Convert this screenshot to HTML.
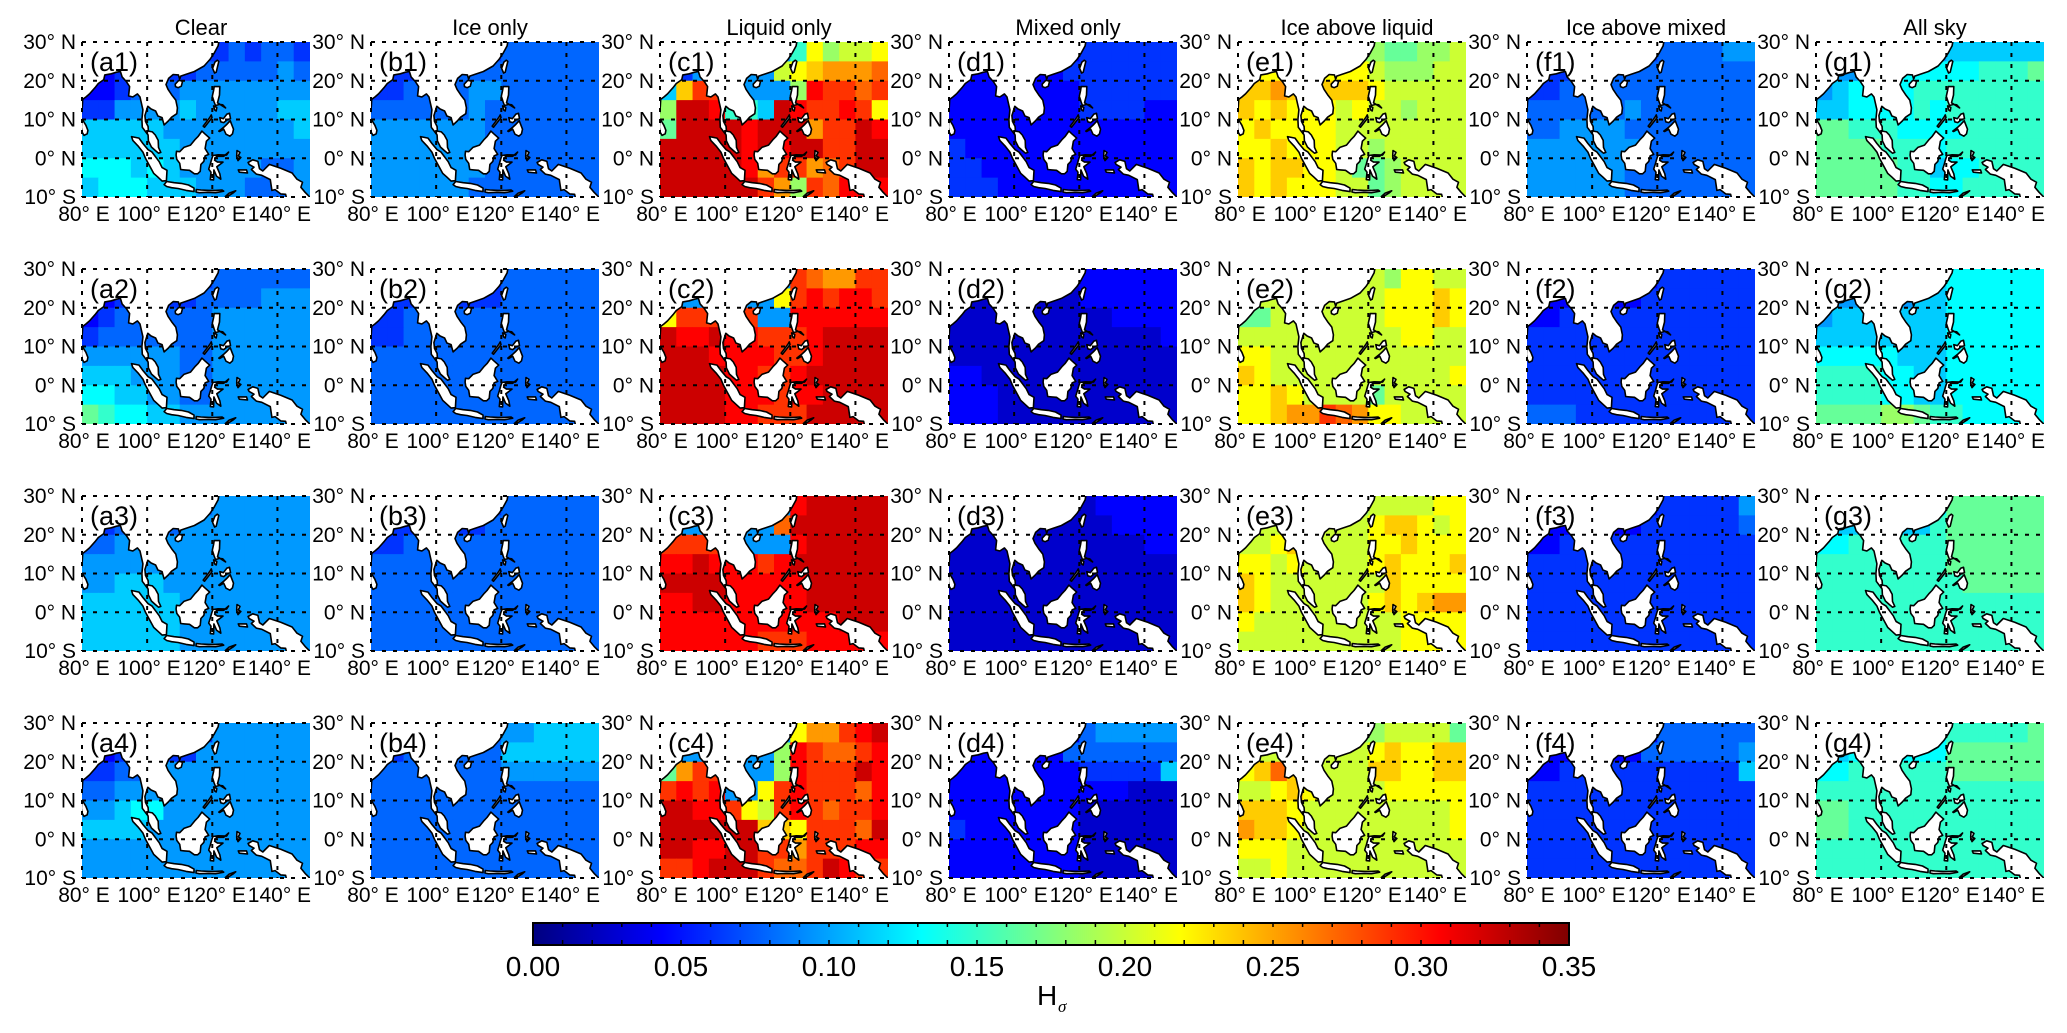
<!DOCTYPE html>
<html><head><meta charset="utf-8">
<style>
html,body{margin:0;padding:0;background:#fff;}
svg{display:block;font-family:"Liberation Sans",Arial,sans-serif;}
</style></head>
<body>
<svg id="fig" width="2067" height="1033" viewBox="0 0 2067 1033" xmlns="http://www.w3.org/2000/svg">
<defs>
<linearGradient id="jet" x1="0" x2="1" y1="0" y2="0">
<stop offset="0" stop-color="#000080"/>
<stop offset="0.125" stop-color="#0000ff"/>
<stop offset="0.375" stop-color="#00ffff"/>
<stop offset="0.625" stop-color="#ffff00"/>
<stop offset="0.875" stop-color="#ff0000"/>
<stop offset="1" stop-color="#800000"/>
</linearGradient>
</defs>
</svg>
<script>
// ---- chart data ----
const columnTitles = ["Clear","Ice only","Liquid only","Mixed only","Ice above liquid","Ice above mixed","All sky"];
const columnLetters = ["a","b","c","d","e","f","g"];
const latTicks = [30,20,10,0,-10];
const latTickLabels = ["30° N","20° N","10° N","0° N","10° S"];
const lonTicks = [80,100,120,140];
const lonTickLabels = ["80° E","100° E","120° E","140° E"];
const cbTicks = [0,0.05,0.10,0.15,0.20,0.25,0.30,0.35];
const cbTickLabels = ["0.00","0.05","0.10","0.15","0.20","0.25","0.30","0.35"];
const valueMin = 0, valueMax = 0.35;
// grid cells: 5° lon x 5° lat, rows from 30°N down to 10°S, columns from 80°E to 150°E
// each char encodes H value: index i in codeChars -> (i+0.5)*0.0175
const codeChars = "0123456789abcdefghij";
const panelA1 = ["22334333343443","22334334444454","22344455555555","33555565555566","66666555555556","66666655555555","77767655555445","67776665554445"];
const panelB1 = ["33333333444444","33333444444444","33444455444444","44444454444444","55555554444444","55555554444444","55555554444444","55555544444444"];
const panelC1 = ["555555558cabbc","3355555bcdeeef","6dgg5555ahggfg","aiih886ihgghgc","9iiiihiiieggih","iiiiihihiiggii","iiiiiheggefgii","iiiiiigeagfhhh"];
const panelD1 = ["22222222333333","22222223333333","22222222333333","22222222333322","22222222222222","32222222222222","33222222222222","33322222222222"];
const panelE1 = ["aaaaaaaaa99aab","ccccccccbaaabb","ddedcdddcbbbbb","dcdcccbcbbabbb","cdccccbbbbbbbb","ccdcccbbabbbbb","dcddccb99abbbb","dcdcccbb9abbbb"];
const panelF1 = ["33333333444455","33334444444444","33444444444444","44444454444444","44555544444444","55555554444444","55555544444444","55555544444444"];
const panelG1 = ["55555555666666","55557777778889","56777788888888","66777787888888","99888777788888","99998887888888","99999886778888","99999887788888"];
const panelA2 = ["33333333444444","22333334444555","23444444555555","34444444555555","55555544555555","66655544555555","77665544555555","98776655555555"];
const panelB2 = ["33333333444444","33333333444444","33444444444444","33444444444444","44444444444444","44444444444444","44444444444444","44444444444444"];
const panelC2 = ["55555555gfeegg","5555555cghghhg","cggggg55hhhhhh","ihhihhggghiiii","iiihhhhgghiiii","iiiihhgghiiiii","iiiihhhghhiiii","iiiihhgggiiiii"];
const panelD2 = ["11111111222222","11111111222222","11111111112222","11111111111112","11111111111111","22111111111111","22211111111111","22211111111111"];
const panelE2 = ["bbbbbbbbbaccbb","bbbbbbbbbcccdc","99bbbbbbbcccdc","bbbbbbbbbbccbb","ccbbbbbbbbbbbb","dcbbbbbbbbbbbc","ccdcbbbb9bbbbb","ccdeegfeccbbbb"];
const panelF2 = ["22222222333333","22222223333333","22333333333333","33333333333333","33333333333333","33333333333333","33333333333333","44433333333333"];
const panelG2 = ["66666666777777","55555566777777","56666666777777","66666666777777","77777666777777","88887766777777","88887766777777","9999aa98877777"];
const panelA3 = ["44444444555555","33444455555555","44555555555555","55555555555555","55666555555555","66666655555555","66666655555555","66666655555555"];
const panelB3 = ["33333333444444","33333334444444","33444444444444","44444444444444","44444444444444","44444444444444","44444444444444","44444444444444"];
const panelC3 = ["55555555hiiiii","5555555fiiiiii","ggggg555hiiiii","hhihhhghiiiiii","iiiihhhhhiiiii","hhiihhhhhiiiii","hhhhhhhhhhhiii","hhhhhhggghhhhh"];
const panelD3 = ["11111111122222","11111111112222","11111111111122","11111111111111","11111111111111","11111111111111","11111111111111","11111111111111"];
const panelE3 = ["aaaaaaaabbbbcc","bbbbbbbbcddcbc","bbcdcbbbccdccc","ccbcbbbbcdcccd","dcbbbbbbbdcccc","dcbbbbbbcdcdee","cbbbbbbbbbcccc","bbbbbbbbbbcccc"];
const panelF3 = ["22222222333335","22222223333334","22333333333333","33333333333333","33333333333333","33333333333333","33333333333333","33333333333333"];
const panelG3 = ["77777777999999","66666668999999","77888888999999","88888888999999","88888888899999","88888888888888","88888888888888","88888888888888"];
const panelA4 = ["33333333555555","22333335555555","33445555555555","44555555555555","55677555555555","66665555555555","55555555555555","55555555555555"];
const panelB4 = ["44444444556666","33444444666666","44444444555555","44444444444444","44444444444444","44444444444444","44444444444444","44444444444444"];
const panelC4 = ["55555555ceeghi","5555555ahgffgh","9egg555ahgggih","ghgh55cghgggfh","iihhgcbghgfggh","iiiiiiddcgggfi","iihhiiggeggghh","gghiiigffgihgg"];
const panelD4 = ["22222222455555","22222224444444","22222222333336","22222222222111","22222222111111","32222222111111","22222222111111","22222222111111"];
const panelE4 = ["aaaaaaaaabbbb9","bbbbbbbbcdccdd","cdfdcbbbddccdd","bbcdcbbbbccccc","dddcbbbbbbbbbc","eddcbbbbbbbbbc","cccbbbbbbbbbbb","bbcbbbbbbbbbbb"];
const panelF4 = ["22222222444444","22222224444445","22333333333336","33333333333333","33333333333333","33333333333333","33333333333333","33333333333333"];
const panelG4 = ["77777777888889","66777777999999","77888888999999","88888888888888","99888888888888","99888888888888","88888888888888","88888888888888"];
const panelsByRow = [
 [panelA1,panelB1,panelC1,panelD1,panelE1,panelF1,panelG1],
 [panelA2,panelB2,panelC2,panelD2,panelE2,panelF2,panelG2],
 [panelA3,panelB3,panelC3,panelD3,panelE3,panelF3,panelG3],
 [panelA4,panelB4,panelC4,panelD4,panelE4,panelF4,panelG4]
];
// coastlines (lon, lat)
const landAsia = [[78,31],[122.2,31],[121.8,29],[120.5,27],[119.3,25.5],[117.5,23.8],[114.5,22.4],[112,21.7],[110.3,21.2],[110,20.4],[109.6,21.5],[108,21.6],[106.6,20.6],[105.8,19],[106.4,17.8],[107.5,16.4],[108.8,15],[109.3,13],[109.1,11.5],[107.5,10.6],[106.5,9.6],[105.2,8.6],[104.8,9.8],[104.6,10.5],[103.3,10.9],[102.6,12.2],[101.2,12.7],[100.2,13.4],[99.3,11],[99.5,9.5],[100.3,8.2],[100.4,7],[101.6,6.8],[102.5,6],[103.4,4.6],[103.5,2.8],[104.2,1.5],[103.5,1.3],[102.5,2],[101.3,2.9],[100.4,4.5],[100.3,6],[98.5,8],[98.4,10],[98.7,12.5],[97.8,15.8],[97,16.6],[95.6,15.8],[94.3,16.1],[94.6,18.5],[93.6,19.8],[92.3,21],[91.8,22.4],[90.6,22.2],[89,21.8],[87,21.5],[86.7,20.3],[85,19.3],[84,18.2],[82.3,16.6],[81.2,15.8],[80.2,15.2],[80.1,13.3],[79.8,11.5],[78,10]];
const landSriLanka = [[79.9,9.8],[80.4,9.6],[81.2,8.5],[81.8,7.2],[81.6,6.3],[80.6,5.9],[80,6.8],[79.8,8]];
const landHainan = [[108.6,19.1],[109.7,20.1],[110.9,19.9],[110.5,18.6],[109.5,18.2],[108.7,18.5]];
const landTaiwan = [[121.5,25.3],[122,25],[121.2,22.2],[120.7,22],[120.1,23.2],[120.8,24.8]];
const landSumatra = [[95.2,5.6],[97.5,5.2],[98.7,3.8],[100.3,2.2],[101.5,1.6],[103.7,-0.9],[104.6,-2.4],[106.1,-3.1],[105.9,-5.8],[104.6,-5.9],[103.2,-4.8],[102,-3.9],[100.8,-2],[99.5,0],[98.7,1.6],[97.2,3.2],[95.6,4.6]];
const landJava = [[105.2,-6.8],[106,-6],[108.3,-6.3],[110.5,-6.5],[112.7,-6.9],[114.4,-7.7],[114.4,-8.6],[112,-8.3],[109.5,-7.8],[107.5,-7.6],[106,-7.3]];
const landLesser = [[115.1,-8.1],[116.5,-8.2],[119,-8.3],[121,-8.3],[123,-8.2],[123.5,-8.5],[121,-8.9],[118.5,-8.8],[116,-8.9],[115,-8.7]];
const landTimor = [[124,-9.9],[125.2,-9],[127.2,-8.4],[126.5,-8.9],[125,-9.7]];
const landBorneo = [[109,1.8],[110,1.7],[111.3,2.8],[113.3,3.4],[114.8,4.9],[115.6,5.6],[116.8,7],[117.7,6.3],[119.2,5.2],[118.2,4.4],[117.8,2.5],[118.9,1],[117.8,0.6],[117.4,-0.8],[116.5,-1.6],[116.3,-3.4],[115.5,-4],[114.5,-4],[113,-3.1],[111.5,-3],[110.3,-2.9],[110,-1.3],[109.1,-0.3],[108.9,0.8]];
const landSulawesi = [[119.4,-5.5],[120.4,-5.6],[120.5,-3],[121.3,-4.6],[122.6,-5.4],[122.3,-4],[121.4,-2.2],[123.3,-1],[121.6,-1],[120.7,-0.5],[121.3,0.5],[123.5,0.5],[125,1.6],[124.4,0.8],[121.8,0.9],[120.2,0.7],[119.8,-0.3],[119.4,-1.5],[118.9,-2.8],[119.6,-3.6]];
const landHalmahera = [[127.6,2],[128.5,1.5],[128,0.6],[128.8,0.2],[127.9,-0.6],[127.5,0.5]];
const landSeram = [[128,-3],[130.5,-3],[130.8,-3.8],[128.3,-3.6]];
const landNewGuinea = [[131,-1.1],[132.4,-0.4],[134,-0.8],[134.5,-2.7],[135.5,-3.3],[137.5,-1.6],[141,-2.6],[144.5,-3.8],[146,-5.4],[147.7,-6.2],[147.2,-7.5],[148.5,-8.8],[150.5,-10.5],[149,-11],[143,-11],[142.5,-9.3],[141,-9.2],[139.3,-8.1],[138.3,-8.3],[137.8,-5.5],[135.2,-4.4],[133.5,-4.1],[132,-2.9],[132.8,-2.3],[131.3,-1.6]];
const landLuzon = [[120.6,18.5],[122.3,18.5],[122.2,16.3],[121.6,14.3],[124.1,13],[123.2,13.8],[122.2,13.9],[121,13.6],[120.6,14.5],[120,16],[120.4,17.5]];
const landMindanao = [[122,7],[123.5,8],[124.3,8.6],[125.5,9.7],[126.5,7.5],[126.2,6.3],[125.4,5.7],[124.2,6.2],[123.5,7.5],[122.2,6.9]];
const landVisayas = [[122.3,10.5],[123.4,10.2],[124.5,11.4],[125.3,11.6],[125.6,10.2],[124.7,10],[123.5,9.2],[122.6,9.4]];
const landPalawan = [[117.2,8.3],[119.3,10.6],[119.7,11.2],[119.9,10.5],[117.6,8]];
const landMindoro = [[120.4,13.5],[121.4,13.1],[121.2,12.2],[120.7,12.5]];
const landShapes = [landAsia,landSriLanka,landHainan,landTaiwan,landSumatra,landJava,landLesser,landTimor,landBorneo,landSulawesi,landHalmahera,landSeram,landNewGuinea,landLuzon,landMindanao,landVisayas,landPalawan,landMindoro];

// ---- layout ----
const NS = "http://www.w3.org/2000/svg";
const svg = document.getElementById('fig');
const colLeft0 = 82, colStep = 289, rowTop0 = 42, rowStep = 227, pw = 228, ph = 155;
const lonMin = 80, lonMax = 150, latMin = -10, latMax = 30;
function jet(v){
  let t = Math.max(0, Math.min(1, (v - valueMin) / (valueMax - valueMin)));
  const f = x => Math.max(0, Math.min(1, x));
  const r = f(1.5 - Math.abs(4*t - 3)), g = f(1.5 - Math.abs(4*t - 2)), b = f(1.5 - Math.abs(4*t - 1));
  return `rgb(${Math.round(r*255)},${Math.round(g*255)},${Math.round(b*255)})`;
}
function decode(ch){ return (codeChars.indexOf(ch) + 0.5) * 0.0175; }
function mk(tag, attrs, parent){
  const e = document.createElementNS(NS, tag);
  for (const k in attrs) e.setAttribute(k, attrs[k]);
  (parent || svg).appendChild(e);
  return e;
}
function txt(str, attrs, parent){ const e = mk('text', attrs, parent); e.textContent = str; return e; }

for (let r = 0; r < 4; r++) {
  for (let c = 0; c < 7; c++) {
    const x0 = colLeft0 + c*colStep, y0 = rowTop0 + r*rowStep;
    const xs = lon => x0 + (lon - lonMin) / (lonMax - lonMin) * pw;
    const ys = lat => y0 + (latMax - lat) / (latMax - latMin) * ph;
    const id = columnLetters[c] + (r+1);
    const g = mk('g', {});
    
    
    const cp = mk('clipPath', {id: 'clip-' + id}, g);
    mk('rect', {x: x0, y: y0, width: pw, height: ph}, cp);
    const inner = mk('g', {'clip-path': `url(#clip-${id})`}, g);
    const grid = panelsByRow[r][c];
    const nRows = grid.length, nCols = grid[0].length;
    const dLat = (latMax - latMin) / nRows, dLon = (lonMax - lonMin) / nCols;
    for (let i = 0; i < nRows; i++) {
      for (let j = 0; j < nCols; j++) {
        const v = decode(grid[i][j]);
        const lonA = lonMin + j*dLon, latA = latMax - i*dLat;
        const cell = mk('rect', {x: xs(lonA).toFixed(2), y: ys(latA).toFixed(2), width: (xs(lonA+dLon)-xs(lonA)+0.6).toFixed(2), height: (ys(latA-dLat)-ys(latA)+0.6).toFixed(2), fill: jet(v)}, inner);
        
        
      }
    }
    for (const shape of landShapes) {
      const pts = shape.map(p => xs(p[0]).toFixed(1) + ',' + ys(p[1]).toFixed(1)).join(' ');
      const poly = mk('polygon', {points: pts, fill: '#fff', stroke: '#000', 'stroke-width': 1.6, 'stroke-linejoin': 'round'}, inner);
      
      
    }
    for (const lat of latTicks) {
      mk('line', {x1: x0, x2: x0+pw, y1: ys(lat), y2: ys(lat), stroke: '#000', 'stroke-width': 2, 'stroke-dasharray': '4,7'}, g);
    }
    for (const lon of lonTicks) {
      mk('line', {x1: xs(lon), x2: xs(lon), y1: y0, y2: y0+ph, stroke: '#000', 'stroke-width': 2, 'stroke-dasharray': '4,7'}, g);
    }
    latTicks.forEach((lat, k) => {
      const t = txt(latTickLabels[k], {x: x0-6, y: ys(lat)+7, 'font-size': 21, 'text-anchor': 'end', fill: '#000'}, g);
      
      
    });
    lonTicks.forEach((lon, k) => {
      const t = txt(lonTickLabels[k], {x: xs(lon)+2, y: y0+ph+24, 'font-size': 21, 'text-anchor': 'middle', fill: '#000'}, g);
      
      
    });
    const pl = txt('(' + id + ')', {x: x0+8, y: y0+29, 'font-size': 27, fill: '#000'}, g);
    
    
    if (r === 0) {
      const tt = txt(columnTitles[c], {x: x0 + pw/2 + 5, y: 35, 'font-size': 22, 'text-anchor': 'middle', fill: '#000'});
      
      
    }
  }
}
// colorbar
const cbX = 533, cbW = 1036, cbY = 923, cbH = 22;
const cbx = v => cbX + (v - valueMin) / (valueMax - valueMin) * cbW;
const cbg = mk('g', {});


mk('rect', {x: cbX, y: cbY, width: cbW, height: cbH, fill: 'url(#jet)', stroke: '#000', 'stroke-width': 2}, cbg);
for (let k = 1; k < 35; k++) {
  const x = cbx(k * 0.01);
  mk('line', {x1: x, x2: x, y1: cbY+cbH, y2: cbY+cbH-5, stroke: '#000', 'stroke-width': 1.5}, cbg);
  mk('line', {x1: x, x2: x, y1: cbY, y2: cbY+4, stroke: '#000', 'stroke-width': 1.5}, cbg);
}
cbTicks.forEach((v, k) => {
  const t = txt(cbTickLabels[k], {x: cbx(v), y: 976, 'font-size': 28, 'text-anchor': 'middle', fill: '#000'}, cbg);
  
  
});
const ht = txt('H', {x: 1037, y: 1005, 'font-size': 28, fill: '#000'}, cbg);


const hs = txt('σ', {x: 1058, y: 1012, 'font-size': 17, 'font-style': 'italic', fill: '#000', 'font-family': 'Liberation Serif, serif'}, cbg);


</script>
</body></html>
